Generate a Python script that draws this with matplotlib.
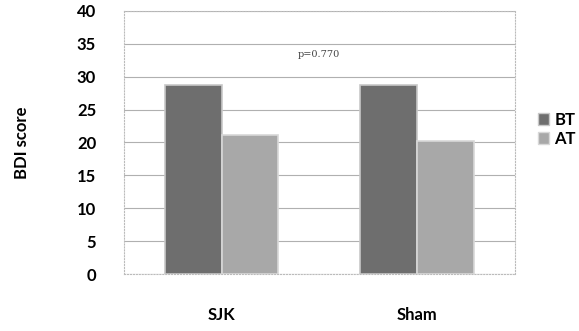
import numpy as np
import matplotlib.pyplot as plt
from matplotlib.patches import Patch

groups = ['SJK', 'Sham']
series = ['BT', 'AT']
bt_values = [28.7, 28.7]
at_values = [21.1, 20.2]
p_label = 'p=0.770'

plt.rcParams['font.family'] = ['Lato', 'DejaVu Sans']

fig = plt.figure(figsize=(5.79, 3.31), dpi=100)
ax = fig.add_axes([0.214, 0.172, 0.675, 0.795])

x = np.arange(len(groups))
w = 0.29
ax.bar(x - w / 2, bt_values, w, color='#6e6e6e', edgecolor='#c8c8c8', linewidth=1.2, zorder=3, label='BT')
ax.bar(x + w / 2, at_values, w, color='#a8a8a8', edgecolor='#d8d8d8', linewidth=1.2, zorder=3, label='AT')

ax.set_xlim(-0.5, 1.5)
ax.set_ylim(0, 40)
ax.set_yticks(range(0, 41, 5))
ax.set_xticks(x)
ax.set_xticklabels(groups, fontsize=12, fontweight='bold')
ax.tick_params(axis='x', length=0, pad=24)
ax.tick_params(axis='y', length=0, pad=20, labelsize=12)
for lab in ax.get_yticklabels():
    lab.set_fontweight('bold')

ax.yaxis.grid(True, color='#b0b0b0', linewidth=0.8, zorder=0)
for s in ax.spines.values():
    s.set_color('#bbbbbb')
    s.set_linestyle(':')
    s.set_linewidth(0.8)

ax.set_ylabel('BDI score', fontsize=12, fontweight='bold', labelpad=34)
ax.text(0.5, 33.3, p_label, fontsize=7, family='DejaVu Serif', color='#444444', ha='center', va='center')

handles = [Patch(facecolor='#6e6e6e', edgecolor='#c8c8c8'),
           Patch(facecolor='#a8a8a8', edgecolor='#d8d8d8')]
ax.legend(handles, series, loc='center left', bbox_to_anchor=(1.02, 0.55), frameon=False,
          handlelength=0.7, handleheight=0.7, handletextpad=0.3, labelspacing=0.15,
          prop={'weight': 'bold', 'size': 12})

fig.savefig('out.png', dpi=100)
